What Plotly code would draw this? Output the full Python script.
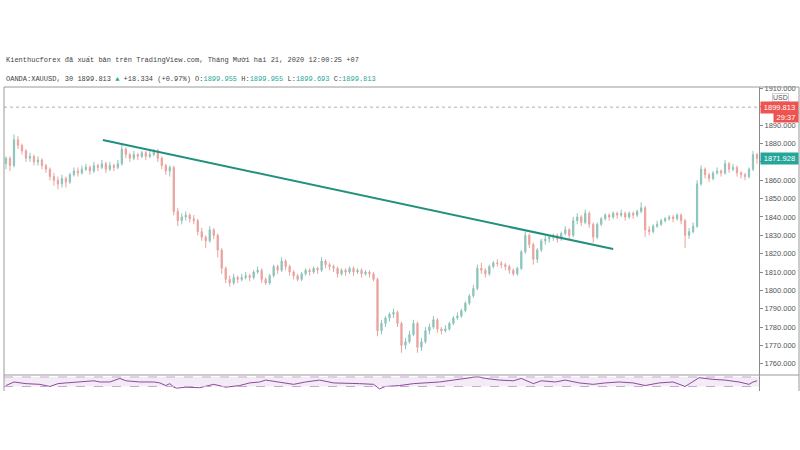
import plotly.graph_objects as go

# ---- data ----
first_open = 1869
closes = [1872,1868,1882,1879,1876,1872,1873,1870,1871,1868,
          1866,1862,1860,1858,1861,1859,1863,1865,1864,1866,
          1867,1865,1868,1867,1869,1866,1868,1867,1869,1877,
          1874,1872,1874,1873,1875,1873,1874,1876,1872,1868,
          1865,1867,1843,1838,1840,1841,1839,1838,1832,1829,
          1827,1833,1830,1822,1812,1806,1804,1807,1806,1807,
          1808,1807,1810,1811,1806,1804,1808,1813,1811,1816,
          1813,1810,1808,1806,1809,1811,1810,1812,1811,1816,
          1814,1813,1812,1809,1811,1810,1812,1810,1811,1809,
          1810,1809,1806,1778,1782,1785,1787,1788,1782,1770,
          1772,1776,1782,1769,1772,1778,1780,1784,1779,1778,
          1779,1782,1785,1786,1789,1793,1797,1801,1812,1811,
          1809,1813,1815,1814.6,1814,1813,1811,1809,1812,1821,
          1830,1825,1817,1822,1827,1828,1829,1830,1828,1831,
          1833,1830,1838,1840,1837,1842,1836,1829,1836,1839,
          1841,1840,1842,1841,1842,1840,1842,1841,1843,1845,
          1833,1832,1835,1836,1838,1839,1840,1839,1841,1838,
          1830,1832,1835,1858,1866,1863,1861,1864,1865,1864,
          1869,1866,1867,1864,1863,1862,1866,1874,1871.928]
highs = [1873,1873,1885,1884,1880,1877,1875,1874,1873,1872,
         1869,1867,1864,1862,1863,1862,1864,1867,1867,1868,
         1869,1868,1870,1869,1871,1870,1870,1869,1871,1880,
         1878,1875,1876,1875,1876,1876,1876,1877,1877,1873,
         1869,1868,1868,1845,1842,1843,1842,1841,1839,1834,
         1830,1835,1834,1831,1823,1813,1808,1809,1808,1809,
         1810,1809,1811,1813,1812,1807,1809,1814,1814,1818,
         1817,1814,1811,1809,1810,1812,1812,1813,1813,1818,
         1817,1815,1814,1813,1812,1812,1813,1813,1812,1812,
         1811,1811,1810,1807,1784,1786,1788,1790,1789,1783,
         1774,1778,1784,1783,1774,1780,1782,1786,1785,1780,
         1781,1783,1786,1788,1790,1794,1798,1803,1814,1815,
         1812,1814,1816,1817,1816,1815,1814,1812,1813,1822,
         1832,1831,1826,1823,1828,1830,1830,1831,1831,1832,
         1835,1834,1840,1842,1841,1844,1843,1837,1837,1840,
         1842,1842,1843,1843,1844,1843,1843,1843,1844,1848,
         1846,1835,1836,1838,1839,1840,1841,1841,1842,1842,
         1839,1834,1837,1860,1868,1867,1864,1865,1867,1866,
         1871,1870,1869,1868,1865,1864,1867,1876,1875]
lows = [1866,1865,1867,1877,1874,1870,1870,1868,1868,1866,
        1864,1860,1857,1855,1856,1856,1858,1862,1862,1863,
        1865,1863,1864,1865,1866,1864,1865,1865,1866,1868,
        1872,1870,1871,1871,1872,1871,1872,1873,1870,1866,
        1863,1862,1841,1835,1836,1838,1837,1836,1830,1827,
        1823,1826,1828,1818,1809,1804,1802,1803,1804,1805,
        1806,1805,1806,1809,1804,1803,1803,1807,1809,1810,
        1811,1808,1806,1805,1805,1808,1808,1809,1809,1810,
        1812,1811,1810,1807,1808,1808,1809,1808,1809,1807,
        1808,1807,1805,1775,1776,1780,1783,1785,1780,1766,
        1768,1771,1775,1766,1767,1771,1776,1779,1777,1776,
        1777,1778,1781,1784,1785,1788,1792,1796,1800,1809,
        1807,1808,1812,1813,1812,1811,1809,1808,1808,1811,
        1820,1823,1814,1815,1821,1825,1826,1827,1826,1827,
        1830,1828,1829,1836,1835,1836,1834,1826,1828,1835,
        1838,1838,1839,1839,1840,1838,1839,1839,1840,1842,
        1829,1830,1831,1834,1835,1837,1838,1837,1838,1836,
        1823,1828,1831,1834,1857,1861,1859,1860,1863,1862,
        1863,1864,1865,1862,1861,1860,1861,1865,1869]
opens = [first_open] + closes[:-1]
bars = list(range(len(closes)))

rsi_x = [0,2,5,8.5,11,13,15,18.5,22,23.5,26,28.5,30,33.5,37,38.5,40,41,42,42.7,
         45,48.5,52,55,58.5,61,63.5,65,68.5,72,75,78.5,82,85,88.5,92,93.5,95,98.5,
         102,105,108.5,112,115,118,120,123.5,127,129,132,134,137.5,140,143.5,147,
         150,153.5,157,160,163.5,167,170,173.5,177,180,183.5,186,187,188]
rsi_v = [34,49,42,39,30,42,45,49,54,49,49,64,54,49,49,45,34,42,27,23,
         27,25,39,27,34,45,49,57,49,39,49,57,45,45,42,39,20,30,34,
         42,45,49,57,64,71,64,57,54,64,42,54,49,57,45,39,
         45,49,45,34,45,49,30,67,60,57,49,39,49,54]

trend_x = [24.25, 152]
trend_y = [1881.9, 1822.5]

last_price = 1899.813
last_close = 1871.928
price_ticks = list(range(1760, 1911, 10))
hidden_ticks = [1870, 1900]   # covered by the price labels in the reference
price_text = ["" if v in hidden_ticks else "%.3f" % v for v in price_ticks]

header1 = "Kienthucforex đã xuất bản trên TradingView.com, Tháng Mười hai 21, 2020 12:00:25 +07"
TEAL = "#26a69a"
header2 = ("OANDA:XAUUSD, 30 1899.813 <span style='color:%s'>▲</span> +18.334 (+0.97%%) "
           "O:<span style='color:%s'>1899.955</span> H:<span style='color:%s'>1899.955</span> "
           "L:<span style='color:%s'>1899.693</span> C:<span style='color:%s'>1899.813</span>"
           % (TEAL, TEAL, TEAL, TEAL, TEAL))

# ---- figure ----
UP, DN = "#8cc4ba", "#eaa39e"
fig = go.Figure()
fig.add_trace(go.Candlestick(
    x=bars, open=opens, high=highs, low=lows, close=closes,
    increasing=dict(line=dict(color=UP, width=1), fillcolor=UP),
    decreasing=dict(line=dict(color=DN, width=1), fillcolor=DN),
    whiskerwidth=0, showlegend=False, yaxis="y", xaxis="x"))
fig.add_trace(go.Scatter(x=trend_x, y=trend_y, mode="lines",
                         line=dict(color="#23907f", width=2), showlegend=False,
                         hoverinfo="skip", yaxis="y"))
fig.add_trace(go.Scatter(x=rsi_x, y=rsi_v, mode="lines",
                         line=dict(color="#8e4a9e", width=1), showlegend=False,
                         yaxis="y2"))

W, H = 800, 450
L, R, T, B = 4, 41, 87, 59
ph = H - T - B
split = (H - B - 375) / ph

fig.update_layout(
    width=W, height=H, margin=dict(l=L, r=R, t=T, b=B),
    paper_bgcolor="white", plot_bgcolor="white", boxgap=0.55,
    xaxis=dict(range=[-0.5, 188.5], showticklabels=False, showgrid=False,
               zeroline=False, rangeslider=dict(visible=False), anchor="y2",
               showline=False),
    yaxis=dict(domain=[split, 1], side="right", range=[1753.9, 1910.8],
               tickvals=price_ticks, ticktext=price_text, ticks="outside",
               ticklen=3, tickcolor="#888", showgrid=False, zeroline=False,
               showline=True, linecolor="#8a8a8a", linewidth=1,
               tickfont=dict(family="Liberation Sans", size=7.5, color="#555")),
    yaxis2=dict(domain=[0, split], range=[11, 78.4], showticklabels=False,
                showgrid=False, zeroline=False, side="right",
                showline=True, linecolor="#8a8a8a", linewidth=1),
    font=dict(family="Liberation Sans"),
)

xr = (W - 1 - L) / (W - L - R)  # paper x of outer right edge
shapes = [
    dict(type="rect", xref="paper", yref="y2", x0=0, x1=1, y0=30, y1=70,
         fillcolor="rgba(155,89,182,0.12)", line=dict(width=0), layer="below"),
    dict(type="line", xref="paper", yref="y2", x0=0, x1=1, y0=70, y1=70,
         line=dict(color="#c7a8d2", width=1, dash="dash")),
    dict(type="line", xref="paper", yref="y2", x0=0, x1=1, y0=30, y1=30,
         line=dict(color="#c7a8d2", width=1, dash="dash")),
    dict(type="line", xref="paper", yref="y", x0=0, x1=1, y0=last_price, y1=last_price,
         line=dict(color="#b0b0b0", width=1, dash="dot")),
    dict(type="line", xref="paper", yref="paper", x0=0, x1=xr, y0=1, y1=1,
         line=dict(color="#9a9a9a", width=1)),
    dict(type="line", xref="paper", yref="paper", x0=0, x1=0, y0=0, y1=1,
         line=dict(color="#9a9a9a", width=1)),
    dict(type="line", xref="paper", yref="paper", x0=xr, x1=xr, y0=0, y1=1,
         line=dict(color="#9a9a9a", width=1)),
    dict(type="line", xref="paper", yref="paper", x0=0, x1=xr, y0=split, y1=split,
         line=dict(color="#9a9a9a", width=1)),
]
fig.update_layout(shapes=shapes)

lab_font = dict(family="Liberation Sans", size=7.5, color="white")
annotations = [
    dict(xref="paper", yref="paper", x=0, y=1 + (T - 60) / ph, xanchor="left",
         yanchor="middle", showarrow=False, text=header1,
         font=dict(family="Liberation Mono", size=7, color="#444")),
    dict(xref="paper", yref="paper", x=0, y=1 + (T - 79) / ph, xanchor="left",
         yanchor="middle", showarrow=False, text=header2,
         font=dict(family="Liberation Mono", size=7, color="#444")),
    dict(xref="paper", yref="paper", x=(780 - L) / (W - L - R), y=1 - (97.5 - T) / ph,
         xanchor="center", yanchor="middle", showarrow=False, text="USD",
         bgcolor="white", bordercolor="#cfcfcf", borderwidth=1, borderpad=0,
         font=dict(family="Liberation Sans", size=7, color="#555")),
    dict(xref="paper", yref="y", x=xr, y=last_price, xanchor="right", yanchor="middle",
         showarrow=False, text="1899.813", bgcolor="#ef5350", borderpad=1,
         width=35, font=lab_font),
    dict(xref="paper", yref="y", x=xr, y=last_price - 5.6, xanchor="right",
         yanchor="middle", showarrow=False, text="29:37", bgcolor="#ef5350",
         borderpad=0, width=24, font=lab_font),
    dict(xref="paper", yref="y", x=xr, y=last_close, xanchor="right", yanchor="middle",
         showarrow=False, text="1871.928", bgcolor="#26a69a", borderpad=1,
         width=35, font=lab_font),
]
fig.update_layout(annotations=annotations)

fig.write_html("out.html")
